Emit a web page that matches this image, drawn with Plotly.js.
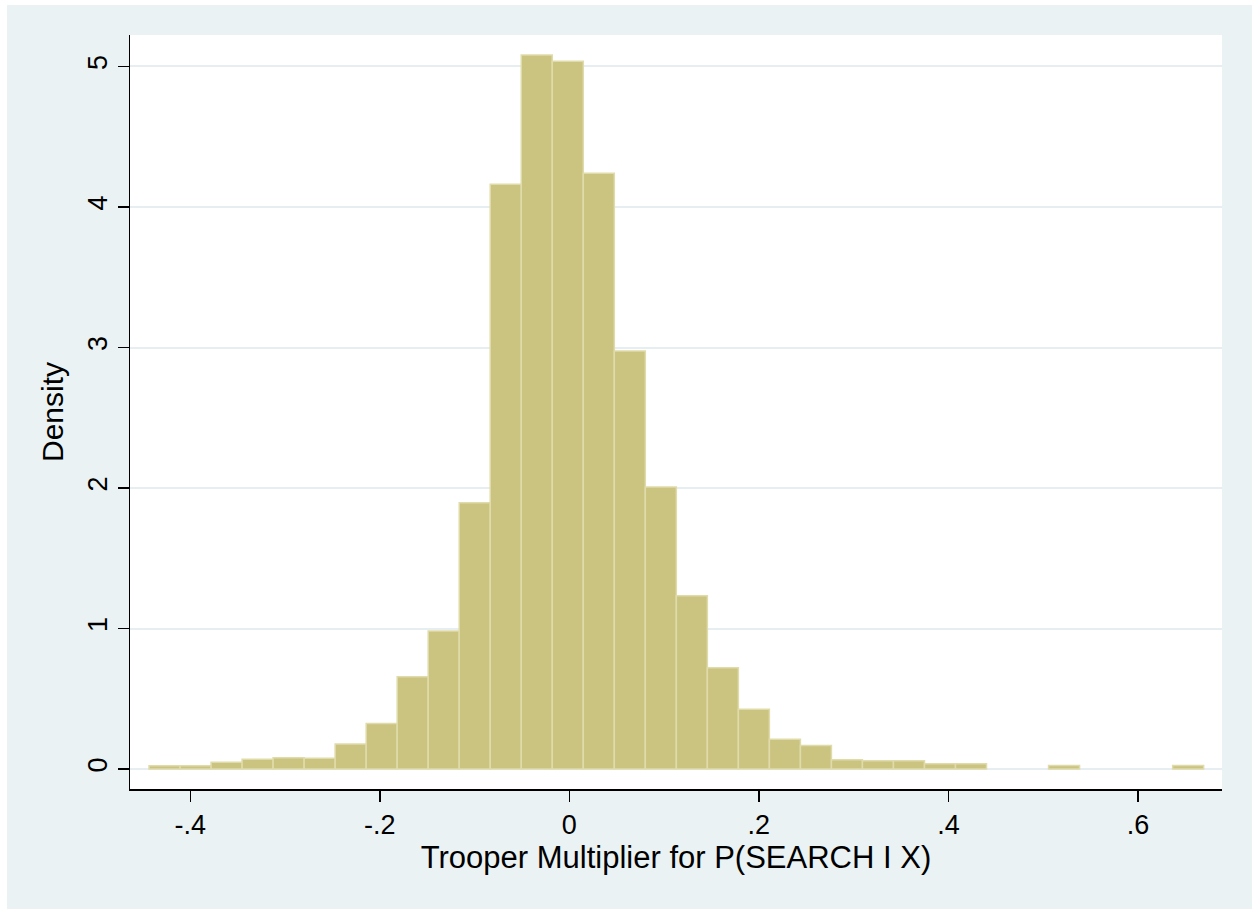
<!DOCTYPE html>
<html>
<head>
<meta charset="utf-8">
<script src="https://cdn.plot.ly/plotly-3.0.1.min.js"></script>
<style>
  html, body { margin: 0; padding: 0; background: #ffffff; width: 1252px; height: 909px; overflow: hidden; }
  #chart { position: absolute; left: 7px; top: 5px; width: 1245px; height: 904px; }
</style>
</head>
<body>
<div id="chart"></div>
<script>
// Histogram bins: first edge and common width
const binStart = -0.4435;
const binWidth = 0.03273;
// Density of each bin, left to right
const densities = [
  0.024, 0.024, 0.048, 0.069, 0.080, 0.076, 0.178, 0.324, 0.657, 0.982,
  1.895, 4.162, 5.082, 5.037, 4.240, 2.975, 2.007, 1.233, 0.721, 0.425,
  0.212, 0.168, 0.067, 0.059, 0.059, 0.038, 0.038, 0, 0, 0.026,
  0, 0, 0, 0.026
];
const xTickVals = [-0.4, -0.2, 0, 0.2, 0.4, 0.6];
const xTickText = ['-.4', '-.2', '0', '.2', '.4', '.6'];
const yTickVals = [0, 1, 2, 3, 4, 5];
const yTickText = ['0', '1', '2', '3', '4', '5'];

// Only non-empty bins are drawn (empty bins have no bar)
const xs = [], ys = [];
densities.forEach((d, i) => {
  if (d > 0) { xs.push(binStart + binWidth * (i + 0.5)); ys.push(d); }
});

const trace = {
  type: 'bar',
  x: xs,
  y: ys,
  width: binWidth,
  marker: {
    color: 'rgb(203,195,128)',
    line: { color: 'rgb(224,219,170)', width: 1.5 }
  },
  hoverinfo: 'x+y'
};

const fontFam = 'Liberation Sans, Arial, Helvetica, sans-serif';
const layout = {
  width: 1245,
  height: 904,
  margin: { l: 123, r: 30, t: 30, b: 120 },
  paper_bgcolor: '#eaf2f3',
  plot_bgcolor: '#ffffff',
  showlegend: false,
  bargap: 0,
  font: { family: fontFam, color: '#000000', size: 27 },
  xaxis: {
    range: [-0.4636, 0.6887],
    tickmode: 'array',
    tickvals: xTickVals,
    ticktext: xTickText,
    ticks: 'outside',
    ticklen: 11,
    tickwidth: 1.5,
    tickcolor: '#000000',
    showline: true,
    linecolor: '#000000',
    linewidth: 1.5,
    showgrid: false,
    zeroline: false,
    tickfont: { size: 27, family: fontFam },
    title: { text: 'Trooper Multiplier for P(SEARCH I X)', font: { size: 31, family: fontFam }, standoff: 3 }
  },
  yaxis: {
    range: [-0.142, 5.224],
    tickmode: 'array',
    tickvals: yTickVals,
    ticktext: yTickText,
    tickangle: -90,
    ticks: 'outside',
    ticklen: 11,
    tickwidth: 1.5,
    tickcolor: '#000000',
    showline: true,
    linecolor: '#000000',
    linewidth: 1.5,
    showgrid: true,
    gridcolor: '#e6eef1',
    gridwidth: 2,
    zeroline: false,
    tickfont: { size: 27, family: fontFam },
    title: { text: 'Density', font: { size: 30, family: fontFam }, standoff: 10 }
  }
};

Plotly.newPlot('chart', [trace], layout, { displayModeBar: false, staticPlot: true });
</script>
</body>
</html>
